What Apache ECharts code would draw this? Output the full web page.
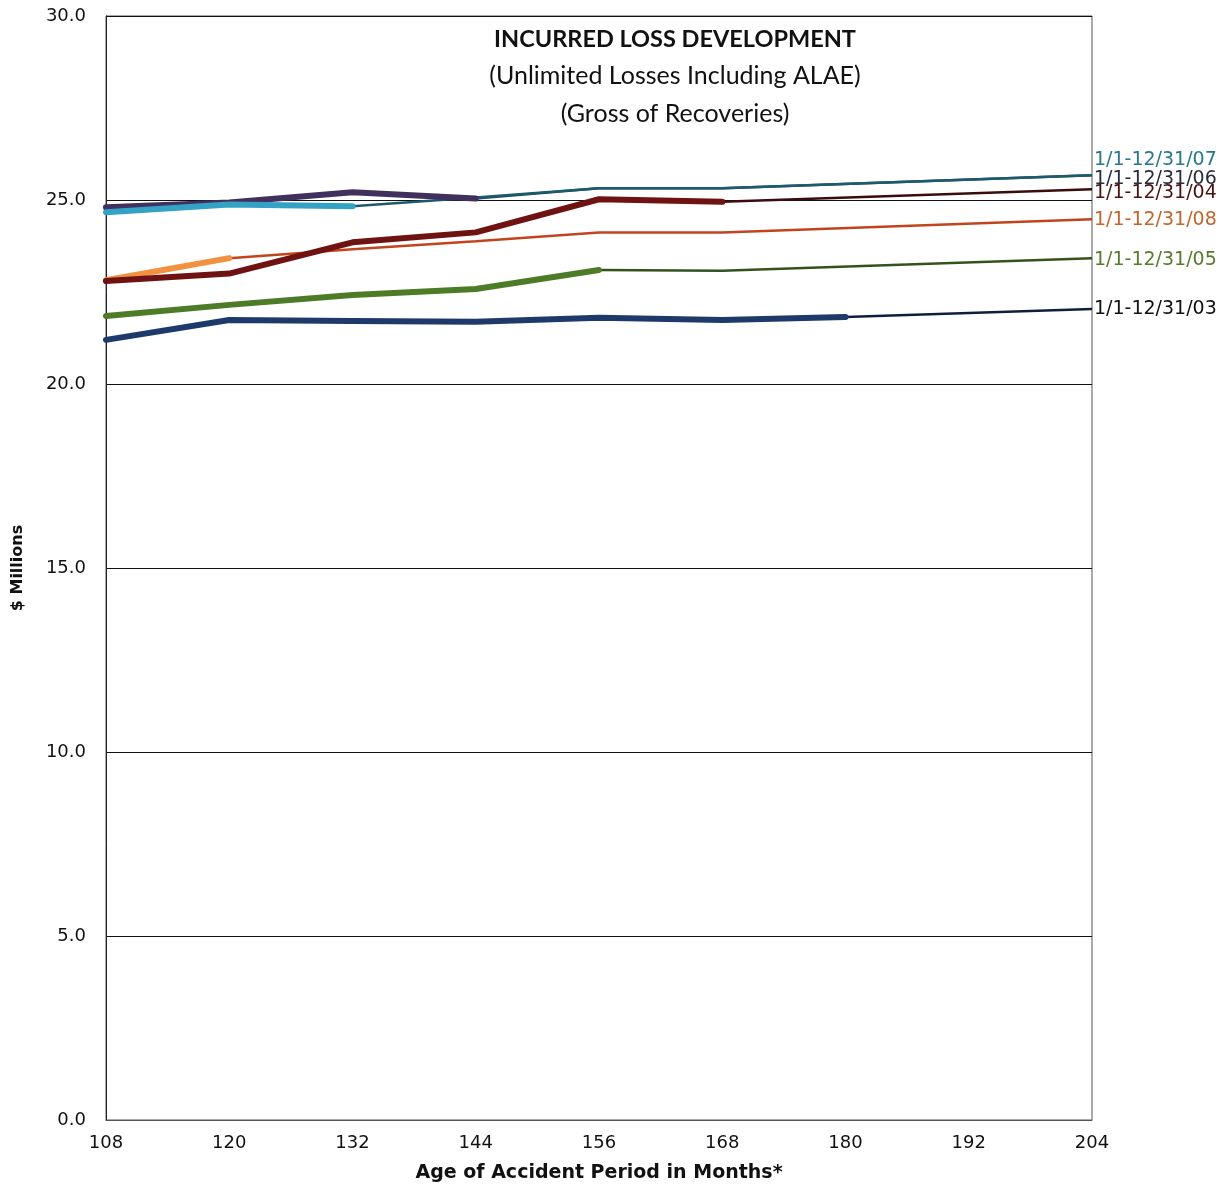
<!DOCTYPE html>
<html>
<head>
<meta charset="utf-8">
<script src="https://cdn.jsdelivr.net/npm/echarts@6/dist/echarts.min.js"></script>
<style>
  html, body { margin: 0; padding: 0; background: #fff; }
  #chart { width: 1228px; height: 1188px; }
</style>
</head>
<body>
<div id="chart"></div>
<script>
// Age of accident period (months) shown on the x axis
const ageTicks = [108, 120, 132, 144, 156, 168, 180, 192, 204];
const valueTicks = [0, 5, 10, 15, 20, 25, 30];

// Incurred losses ($ millions): reported development (thick) and projection (thin), [age, value]
const ap03Actual = [[108, 21.20], [120, 21.74], [132, 21.71], [144, 21.69], [156, 21.80], [168, 21.74], [180, 21.82]];
const ap03Proj   = [[180, 21.82], [204, 22.04]];

const ap05Actual = [[108, 21.85], [120, 22.15], [132, 22.42], [144, 22.58], [156, 23.10]];
const ap05Proj   = [[156, 23.10], [168, 23.08], [204, 23.42]];

const ap04Actual = [[108, 22.80], [120, 23.00], [132, 23.85], [144, 24.12], [156, 25.02], [168, 24.95]];
const ap04Proj   = [[168, 24.95], [204, 25.29]];

const ap06Actual = [[108, 24.80], [120, 24.93], [132, 25.21], [144, 25.04]];
const ap06Proj   = [[144, 25.04], [156, 25.32], [168, 25.32], [204, 25.67]];

const ap07Actual = [[108, 24.67], [120, 24.88], [132, 24.83]];
const ap07Proj   = [[132, 24.83], [144, 25.07], [156, 25.32], [168, 25.32], [204, 25.67]];

const ap08Actual = [[108, 22.82], [120, 23.42]];
const ap08Proj   = [[120, 23.42], [132, 23.66], [144, 23.88], [156, 24.12], [168, 24.12], [204, 24.48]];

const cohorts = [
  { name: '1/1-12/31/03', actual: ap03Actual, proj: ap03Proj, thick: '#1E3A6A', thin: '#101E3E', label: '#111111', dy: 0 },
  { name: '1/1-12/31/05', actual: ap05Actual, proj: ap05Proj, thick: '#4E7B27', thin: '#34531C', label: '#587A2C', dy: 2 },
  { name: '1/1-12/31/08', actual: ap08Actual, proj: ap08Proj, thick: '#F29240', thin: '#C2441C', label: '#C0652C', dy: 1 },
  { name: '1/1-12/31/04', actual: ap04Actual, proj: ap04Proj, thick: '#6E1212', thin: '#3A0C0C', label: '#4A1212', dy: 4 },
  { name: '1/1-12/31/06', actual: ap06Actual, proj: ap06Proj, thick: '#40305E', thin: '#1E4B5E', label: '#2C2C3C', dy: 4 },
  { name: '1/1-12/31/07', actual: ap07Actual, proj: ap07Proj, thick: '#33A2C4', thin: '#1E5A6E', label: '#26788A', dy: -15 }
];

const FONT = '"DejaVu Sans", Verdana, sans-serif';
const TITLE_FONT = 'Lato, "Open Sans", sans-serif';

const series = [];
// projections underneath
cohorts.forEach(c => {
  series.push({
    name: c.name + ' proj',
    type: 'line',
    data: c.proj,
    symbol: 'none',
    z: 2,
    lineStyle: { color: c.thin, width: 2.5 },
    endLabel: {
      show: true,
      formatter: c.name,
      color: c.label,
      fontFamily: FONT,
      fontSize: 19,
      distance: 2,
      offset: [0, c.dy]
    }
  });
});
// reported development on top
cohorts.forEach(c => {
  series.push({
    name: c.name,
    type: 'line',
    data: c.actual,
    symbol: 'none',
    z: 3,
    lineStyle: { color: c.thick, width: 6, cap: 'round', join: 'round' }
  });
});

const chart = echarts.init(document.getElementById('chart'), null, { renderer: 'canvas' });
chart.setOption({
  backgroundColor: '#ffffff',
  animation: false,
  grid: {
    left: 106, right: 136, top: 16, bottom: 64,
    show: true, borderColor: '#555555', borderWidth: 1, backgroundColor: 'transparent'
  },
  xAxis: {
    type: 'value',
    min: ageTicks[0],
    max: ageTicks[ageTicks.length - 1],
    interval: 12,
    name: 'Age of Accident Period in Months*',
    nameLocation: 'middle',
    nameGap: 44,
    nameTextStyle: { fontFamily: FONT, fontWeight: 'bold', fontSize: 19, color: '#111' },
    axisLine: { show: true, lineStyle: { color: '#555', width: 1 } },
    axisTick: { show: false },
    splitLine: { show: false },
    axisLabel: { fontFamily: FONT, fontSize: 18, color: '#111', margin: 14 }
  },
  yAxis: {
    type: 'value',
    min: valueTicks[0],
    max: valueTicks[valueTicks.length - 1],
    interval: 5,
    name: '$ Millions',
    nameLocation: 'middle',
    nameGap: 80,
    nameRotate: 90,
    nameTextStyle: { fontFamily: FONT, fontWeight: 'bold', fontSize: 16, color: '#111' },
    axisLine: { show: true, lineStyle: { color: '#222', width: 1 } },
    axisTick: { show: false },
    splitLine: { show: true, lineStyle: { color: '#111', width: 1 } },
    axisLabel: { fontFamily: FONT, fontSize: 18, color: '#111', margin: 20, formatter: v => v.toFixed(1) }
  },
  graphic: [
    { type: 'text', x: 675, y: 39, style: { text: 'INCURRED LOSS DEVELOPMENT', font: 'bold 23.5px ' + TITLE_FONT, fill: '#111', textAlign: 'center', textVerticalAlign: 'middle' } },
    { type: 'text', x: 675, y: 76, style: { text: '(Unlimited Losses Including ALAE)', font: '25px ' + TITLE_FONT, fill: '#111', textAlign: 'center', textVerticalAlign: 'middle' } },
    { type: 'text', x: 675, y: 114, style: { text: '(Gross of Recoveries)', font: '25px ' + TITLE_FONT, fill: '#111', textAlign: 'center', textVerticalAlign: 'middle' } }
  ],
  series: series
});
</script>
</body>
</html>
